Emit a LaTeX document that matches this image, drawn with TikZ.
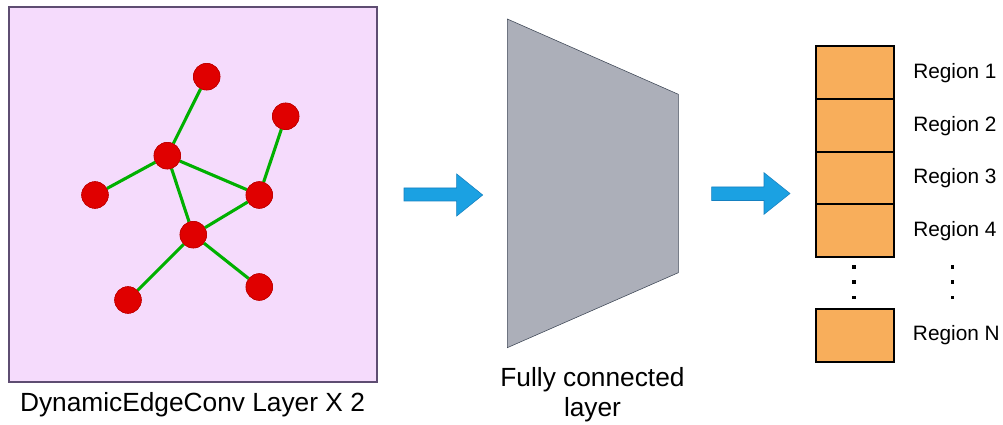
\documentclass[tikz,border=0pt]{standalone}
\usepackage{fontspec}
\setmainfont{Liberation Sans}
\usetikzlibrary{positioning}
\definecolor{panelpink}{HTML}{F5DBFC}
\definecolor{panelline}{HTML}{5E4D72}
\definecolor{ptred}{HTML}{E00000}
\definecolor{edgegreen}{HTML}{00B000}
\definecolor{fcgray}{HTML}{ACAFB9}
\definecolor{fcline}{HTML}{3E4756}
\definecolor{regorange}{HTML}{F8AE5B}
\definecolor{arrowblue}{HTML}{1BA1E2}
\definecolor{arrowline}{HTML}{1580C0}
\tikzset{every node/.style={font=\fontsize{14.8}{17}\selectfont, inner sep=0pt},
  capfont/.style={font=\fontsize{18.7}{20.5}\selectfont},
  pt/.style={circle, fill=ptred, draw=ptred!85!black, thin, minimum size=0.665cm},
  gedge/.style={edgegreen, line width=2.2pt},
  regbox/.style={rectangle, fill=regorange, draw=black, line width=1.4pt, minimum width=1.97cm, minimum height=1.32cm},
  blockarrow/.style={fill=arrowblue, draw=arrowline, thin}}

\begin{document}
\begin{tikzpicture}[x=0.025cm,y=-0.025cm]
   \useasboundingbox (0,0) rectangle (1003,425);
   % graph panel
   \draw[panelline, fill=panelpink, thick] (9,7) rectangle (377,382);
   \node (top) [pt] at (206.7,76.7) {};
   \node (ur) [pt] at (285.7,116.3) {};
   \node (hubA) [pt] at (167.3,155.7) {};
   \node (lft) [pt] at (95,195) {};
   \node (rgt) [pt] at (259.3,195) {};
   \node (hubB) [pt] at (193.3,234.7) {};
   \node (bl) [pt] at (128,300) {};
   \node (br) [pt] at (259.3,287) {};
   \foreach \a/\b in {hubA/top,hubA/lft,hubA/rgt,hubA/hubB,rgt/ur,hubB/rgt,hubB/bl,hubB/br}
    \draw[gedge] (\a) -- (\b);
   \foreach \n in {top,ur,hubA,lft,rgt,hubB,bl,br}
    \node[pt] at (\n) {};
   \node (cap1) [capfont] at (192.5,404.5) {DynamicEdgeConv Layer X 2};
   % arrows
   \draw[blockarrow] (404,188) -- (456.7,188) -- (456.7,174) -- (482.7,195)
     -- (456.7,216) -- (456.7,201) -- (404,201) -- cycle;
   \draw[blockarrow] (711.7,187) -- (764,187) -- (764,172.7) -- (790,193.5)
     -- (764,214.3) -- (764,200.5) -- (711.7,200.5) -- cycle;
   % fully connected layer
   \draw[fill=fcgray, draw=fcline] (507.3,19) -- (678.3,94.3) -- (678.3,272.7)
     -- (507.3,347.7) -- cycle;
   \node (cap2) [capfont, align=center] at (592.5,395) {Fully connected\\[1pt]layer};
   % regions
   \foreach \i/\y in {1/72.3,2/125.3,3/178,4/230.3}{
     \node (r\i) [regbox] at (855,\y) {};
     \node (l\i) [anchor=west] at (913,\y+0.5) {Region \i};
   }
   \node (rN) [regbox] at (855,335.2) {};
   \node (lN) [anchor=west] at (912.7,335) {Region N};
   \foreach \x in {854,952.7}
    \foreach \y in {267,282,297.5}
     \fill (\x-1.6,\y-1.6) rectangle (\x+1.6,\y+1.6);
\end{tikzpicture}
\end{document}
